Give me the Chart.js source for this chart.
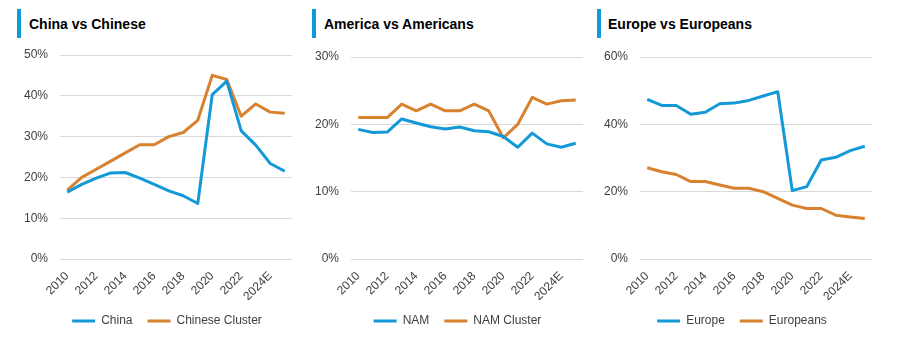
<!DOCTYPE html>
<html>
<head>
<meta charset="utf-8">
<script src="https://cdn.jsdelivr.net/npm/chart.js@4"></script>
<style>
  body { margin: 0; background: #fff; font-family: "Liberation Sans", Arial, sans-serif; }
  #wrap { position: relative; width: 903px; height: 341px; overflow: hidden; }
  .title { position: absolute; top: 9px; height: 29px; line-height: 31px; border-left: 4px solid #0f9bd7;
           padding-left: 8px; font-size: 14px; font-weight: bold; color: #000; white-space: nowrap; }
  .box { position: absolute; top: 0; height: 341px; }
</style>
</head>
<body>
<div id="wrap">
  <div class="title" style="left:17px">China vs Chinese</div>
  <div class="title" style="left:312px">America vs Americans</div>
  <div class="title" style="left:597px;padding-left:7px">Europe vs Europeans</div>
  <div class="box" style="left:0;width:300px"><canvas id="c1"></canvas></div>
  <div class="box" style="left:300px;width:300px"><canvas id="c2"></canvas></div>
  <div class="box" style="left:600px;width:303px"><canvas id="c3"></canvas></div>
</div>
<script>
const years = ['2010','2011','2012','2013','2014','2015','2016','2017','2018','2019','2020','2021','2022','2023','2024E','2025E']

const china = [16.4, 18.3, 19.8, 21.1, 21.2, 19.8, 18.3, 16.7, 15.5, 13.6, 40.3, 43.6, 31.4, 27.9, 23.4, 21.5]
const chineseCluster = [16.9, 20, 22, 24, 26, 28, 28, 30, 31, 34, 45, 44, 35, 38, 36, 35.7]

const nam = [19.25, 18.8, 18.85, 20.8, 20.2, 19.65, 19.3, 19.6, 19.05, 18.9, 18.2, 16.6, 18.7, 17.1, 16.6, 17.2]
const namCluster = [21, 21, 21, 23, 22, 23, 22, 22, 23, 22, 18, 20, 24, 23, 23.5, 23.6]

const europe = [47.4, 45.6, 45.6, 43.0, 43.6, 46.1, 46.3, 47.1, 48.4, 49.7, 20.3, 21.5, 29.4, 30.2, 32.2, 33.5]
const europeans = [27.1, 25.9, 25.1, 23, 23, 22, 21, 21, 20, 18, 16, 15, 15, 13, 12.5, 12]

const BLUE = '#1499d8'
const ORANGE = '#d8812f'
const TXT = '#404040'
const GRID = '#d9d9d9'
const FONT = '"Liberation Sans", Arial, sans-serif'

function series(label, data, color) {
  return { label, data, borderColor: color, backgroundColor: color, borderWidth: 3,
           pointRadius: 0, tension: 0, borderJoinStyle: 'round' }
}

// nudge the legend sideways so it sits a little left of the plot centre
const legendShift = {
  id: 'legendShift',
  afterLayout(chart, args, opts) {
    const l = chart.legend
    if (!l) return
    l.left += opts.dx
    l.right += opts.dx
  }
}

// flat line swatches: fill only, no outline
const flatLabels = chart =>
  Chart.defaults.plugins.legend.labels.generateLabels(chart).map(item => ({ ...item, lineWidth: 0 }))

function makeChart(id, sets, max, step, pad, yWidth, dx) {
  return new Chart(document.getElementById(id), {
    type: 'line',
    data: { labels: years, datasets: sets },
    plugins: [legendShift],
    options: {
      responsive: true,
      maintainAspectRatio: false,
      animation: false,
      layout: { padding: pad },
      plugins: {
        tooltip: { enabled: false },
        legendShift: { dx },
        legend: {
          position: 'bottom',
          labels: { boxWidth: 23, boxHeight: 3, padding: 15, color: TXT,
                    font: { family: FONT, size: 12 }, generateLabels: flatLabels }
        }
      },
      scales: {
        x: {
          offset: true,
          grid: { display: false },
          border: { display: false },
          afterFit: s => { s.height = 41 },
          ticks: {
            autoSkip: false, minRotation: 45, maxRotation: 45, padding: 2, color: TXT,
            font: { family: FONT, size: 12 },
            callback: (v, i) => (i % 2 === 0 ? years[i] : '')
          }
        },
        y: {
          min: 0, max,
          afterFit: s => { s.width = yWidth },
          grid: { color: GRID, lineWidth: 1, drawTicks: false },
          border: { display: false },
          ticks: { stepSize: step, padding: 12, color: TXT, font: { family: FONT, size: 12 },
                   callback: v => v + '%' }
        }
      }
    }
  })
}

makeChart('c1', [series('China', china, BLUE), series('Chinese Cluster', chineseCluster, ORANGE)],
  50, 10, { left: 0, right: 8, top: 55, bottom: 4 }, 60, 21)
makeChart('c2', [series('NAM', nam, BLUE), series('NAM Cluster', namCluster, ORANGE)],
  30, 10, { left: 0, right: 17, top: 57, bottom: 4 }, 51, 16)
makeChart('c3', [series('Europe', europe, BLUE), series('Europeans', europeans, ORANGE)],
  60, 20, { left: 0, right: 31, top: 57, bottom: 4 }, 40, 6)
</script>
</body>
</html>
